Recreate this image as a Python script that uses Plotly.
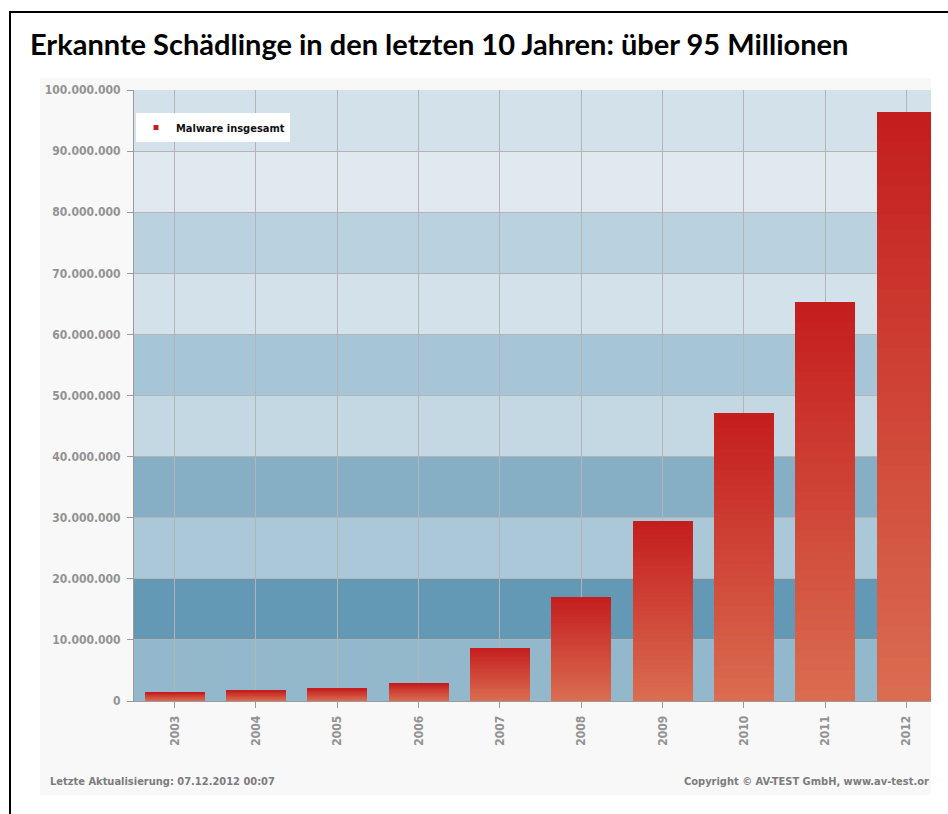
import plotly.graph_objects as go

years = ["2003", "2004", "2005", "2006", "2007", "2008", "2009", "2010", "2011", "2012"]
malware = [1.4e6, 1.7e6, 2.0e6, 2.9e6, 8.7e6, 17.1e6, 29.5e6, 47.1e6, 65.3e6, 96.4e6]

band_edges = [0, 10e6, 20e6, 30e6, 40e6, 50e6, 60e6, 70e6, 80e6, 90e6, 100e6]
band_colors = ["#93b8cb", "#6399b5", "#aac8d8", "#86afc6", "#c4d8e4",
               "#a6c5d6", "#d2e1ea", "#bad2df", "#dfe9ef", "#d3e2ea"]

title_text = "Erkannte Schädlinge in den letzten 10 Jahren: über 95 Millionen"
legend_name = "Malware insgesamt"
footer_left = "Letzte Aktualisierung: 07.12.2012 00:07"
footer_right = "Copyright © AV-TEST GmbH, www.av-test.or"

W, H = 948, 814
ML, MR, MT, MB = 134, 17, 90, 113
PW, PH = W - ML - MR, H - MT - MB

def px2x(px):
    return (px - ML) / PW

def px2y(py):
    return (H - MB - py) / PH

top_rgb = (196, 30, 30)
bot_rgb = (218, 108, 80)
N = 40

fig = go.Figure()
for k in range(N):
    t = k / (N - 1)
    c = tuple(round(b + (a - b) * t) for a, b in zip(top_rgb, bot_rgb))
    fig.add_trace(go.Bar(
        x=years,
        y=[v * (1 - k / N) for v in malware],
        base=[v * k / N for v in malware],
        width=0.74,
        marker=dict(color="rgb(%d,%d,%d)" % c, line=dict(width=0)),
        showlegend=False,
        hoverinfo="skip",
    ))

fig.add_trace(go.Scatter(
    x=[None], y=[None], mode="markers", name=legend_name,
    marker=dict(symbol="square", size=5, color="rgb(196,30,30)"),
))

shapes = []
shapes.append(dict(type="rect", xref="paper", yref="paper",
                   x0=px2x(40), x1=px2x(931), y0=px2y(795), y1=px2y(78),
                   fillcolor="#f8f8f8", line=dict(width=0), layer="below"))
for i in range(len(band_colors)):
    shapes.append(dict(type="rect", xref="paper", yref="y",
                       x0=0, x1=1, y0=band_edges[i], y1=band_edges[i + 1],
                       fillcolor=band_colors[i], line=dict(width=0), layer="below"))
shapes.append(dict(type="rect", xref="paper", yref="paper",
                   x0=px2x(10), x1=px2x(960), y0=px2y(830), y1=px2y(12),
                   fillcolor="rgba(0,0,0,0)", line=dict(color="black", width=2), layer="above"))

y_font = dict(family="DejaVu Sans Condensed", size=12, color="#929292", weight="bold")
x_font = dict(family="DejaVu Sans Condensed", size=12, color="#929292", weight="bold")

fig.update_layout(
    width=W, height=H,
    margin=dict(l=ML, r=MR, t=MT, b=MB, pad=0),
    paper_bgcolor="white",
    plot_bgcolor="rgba(0,0,0,0)",
    barmode="overlay",
    bargap=0,
    separators=",.",
    shapes=shapes,
    title=dict(text=title_text, xref="container", yref="container",
               x=30 / W, xanchor="left", y=1 - 45 / H, yanchor="middle",
               font=dict(family="Lato", size=29, color="black", weight="bold")),
    legend=dict(x=px2x(136), y=px2y(113), xanchor="left", yanchor="top",
                bgcolor="white", borderwidth=0,
                font=dict(family="DejaVu Sans Condensed", size=11, color="#111111", weight="bold")),
    xaxis=dict(range=[-0.5, 9.3], type="category", tickangle=-90,
               showgrid=True, gridcolor="#b4b4b4", gridwidth=1,
               ticks="outside", ticklen=6, tickcolor="#9a9a9a",
               showline=True, linecolor="#9a9a9a", linewidth=1,
               tickfont=x_font, fixedrange=True, ticklabelstandoff=3),
    yaxis=dict(range=[0, 100e6], dtick=10e6, tickformat=",d",
               showgrid=True, gridcolor="#b4b4b4", gridwidth=1,
               ticks="outside", ticklen=6, tickcolor="#9a9a9a",
               showline=True, linecolor="#9a9a9a", linewidth=1,
               zeroline=False, tickfont=y_font, fixedrange=True,
               ticklabelstandoff=4),
    annotations=[
        dict(text=footer_left, xref="paper", yref="paper", x=px2x(48), y=px2y(781),
             xanchor="left", yanchor="middle", showarrow=False,
             font=dict(family="DejaVu Sans Condensed", size=11, color="#7c7c7c", weight="bold")),
        dict(text=footer_right, xref="paper", yref="paper", x=px2x(931), y=px2y(781),
             xanchor="right", yanchor="middle", showarrow=False,
             font=dict(family="DejaVu Sans Condensed", size=11, color="#7c7c7c", weight="bold")),
    ],
)

fig.write_html("out.html")
